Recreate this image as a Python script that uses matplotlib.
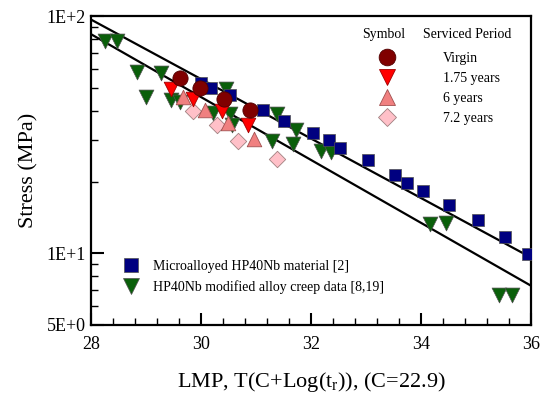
import numpy as np
import matplotlib
matplotlib.use('Agg')
from matplotlib import pyplot as plt
from matplotlib.lines import Line2D
from matplotlib.ticker import FixedLocator, NullFormatter, MultipleLocator

plt.rcParams['font.family'] = 'Liberation Serif'
plt.rcParams['mathtext.fontset'] = 'custom'
plt.rcParams['mathtext.rm'] = 'Liberation Serif'
plt.rcParams['mathtext.it'] = 'Liberation Serif:italic'

# Microalloyed HP40Nb material [2]
micro_lmp = [30.0, 30.18, 30.53, 31.13, 31.51, 32.03, 32.33, 32.53, 33.03, 33.53,
             33.75, 34.03, 34.51, 35.04, 35.53, 35.95]
micro_stress = [52.2, 49.8, 46.4, 40.1, 36.1, 32.2, 30.2, 27.8, 24.8, 21.5,
                19.8, 18.4, 16.0, 13.8, 11.7, 9.97]

# HP40Nb modified alloy creep data [8,19]
mod_lmp = [28.26, 28.47, 28.84, 29.28, 29.01, 29.45, 29.62, 30.22, 30.53, 30.56,
           30.45, 31.38, 31.73, 31.29, 31.68, 32.18, 32.36, 34.17, 34.45, 35.42, 35.65]
mod_stress = [78.4, 78.4, 58.2, 57.5, 45.8, 44.4, 43.5, 39.2, 38.6, 34.7,
              49.2, 38.8, 33.2, 29.7, 28.9, 26.9, 26.8, 13.3, 13.4, 6.65, 6.65]

# serviced samples
virgin_lmp = [29.62, 29.98, 30.42, 30.89]
virgin_stress = [54.9, 50.0, 44.9, 40.2]
y175_lmp = [29.45, 29.85, 30.39, 30.85]
y175_stress = [49.4, 44.9, 39.7, 34.7]
y6_lmp = [29.67, 30.07, 30.5, 30.96]
y6_stress = [45.5, 40.1, 35.3, 30.4]
y72_lmp = [29.86, 30.29, 30.68, 31.38]
y72_stress = [39.9, 34.8, 29.9, 25.0]

# fitted lines
fit_lmp = [28, 36]
upper_fit = [96.8, 9.6]
lower_fit = [84.0, 7.3]

fig = plt.figure(figsize=(5.51, 4.04), dpi=100)
ax = fig.add_axes([0.165, 0.196, 0.799, 0.764])

ax.plot(fit_lmp, upper_fit, color='black', lw=1.6, zorder=2)
ax.plot(fit_lmp, lower_fit, color='black', lw=1.6, zorder=2)

ec = '#505050'
ax.scatter(mod_lmp, mod_stress, marker='v', s=115, color='#0a5f0a', edgecolors=ec, linewidths=0.5, zorder=3)
ax.scatter(micro_lmp, micro_stress, marker='s', s=85, color='#000080', edgecolors=ec, linewidths=0.5, zorder=4)
ax.scatter(y72_lmp, y72_stress, marker='D', s=70, color='#ffc0c8', edgecolors='#a08080', linewidths=0.6, zorder=5)
ax.scatter(y6_lmp, y6_stress, marker='^', s=110, color='#f08080', edgecolors='#a05050', linewidths=0.6, zorder=5)
ax.scatter(y175_lmp, y175_stress, marker='v', s=110, color='#ff0000', edgecolors='#a00000', linewidths=0.6, zorder=5)
ax.scatter(virgin_lmp, virgin_stress, marker='o', s=120, color='#800000', edgecolors='#500000', linewidths=0.6, zorder=6)

ax.set_yscale('log')
ax.set_xlim(28, 36)
ax.set_ylim(5, 100)
ax.xaxis.set_major_locator(MultipleLocator(2))
ax.xaxis.set_minor_locator(MultipleLocator(0.4))
ax.yaxis.set_major_locator(FixedLocator([5, 10, 100]))
ax.set_yticklabels(['5E+0', '1E+1', '1E+2'])
ax.yaxis.set_minor_locator(FixedLocator([6, 7, 8, 9, 20, 30, 40, 50, 60, 70, 80, 90]))
ax.yaxis.set_minor_formatter(NullFormatter())
ax.tick_params(which='both', direction='in', top=False, right=False, labelsize=13)
ax.tick_params(which='major', length=9, width=1.5)
ax.tick_params(which='minor', length=5, width=1)
ax.tick_params(axis='x', pad=8)
for s in ax.spines.values():
    s.set_linewidth(1.6)

ax.set_xlabel('LMP, T(C+Log(t$_\\mathrm{r}$)), (C=22.9)', fontsize=16, labelpad=12)
ax.set_ylabel('Stress (MPa)', fontsize=16, labelpad=6)

# lower-left legend
h1 = Line2D([], [], ls='', marker='s', ms=10.5, color='#000080', markeredgecolor=ec, mew=0.5)
h2 = Line2D([], [], ls='', marker='v', ms=12, color='#0a5f0a', markeredgecolor=ec, mew=0.5)
ax.legend([h1, h2], ['Microalloyed HP40Nb material [2]', 'HP40Nb modified alloy creep data [8,19]'],
          loc='lower left', bbox_to_anchor=(0.03, 0.06), frameon=False, fontsize=10,
          handletextpad=0.6, labelspacing=0.5)

# upper-right legend
ax.text(0.665, 0.94, 'Symbol', transform=ax.transAxes, fontsize=10, ha='center', va='center')
ax.text(0.755, 0.94, 'Serviced Period', transform=ax.transAxes, fontsize=10, ha='left', va='center')
hv = Line2D([], [], ls='', marker='o', ms=12, color='#800000', markeredgecolor='#500000', mew=0.6)
h175 = Line2D([], [], ls='', marker='v', ms=12, color='#ff0000', markeredgecolor='#a00000', mew=0.6)
h6 = Line2D([], [], ls='', marker='^', ms=12, color='#f08080', markeredgecolor='#a05050', mew=0.6)
h72 = Line2D([], [], ls='', marker='D', ms=9.5, color='#ffc0c8', markeredgecolor='#a08080', mew=0.6)
leg2 = fig.legend([hv, h175, h6, h72], ['Virgin', '1.75 years', '6 years', '7.2 years'],
                  loc='upper left', bbox_to_anchor=(0.667, 0.885), frameon=False, fontsize=10,
                  handletextpad=3.0, labelspacing=0.5, borderaxespad=0)

fig.savefig('out.png', dpi=100)
